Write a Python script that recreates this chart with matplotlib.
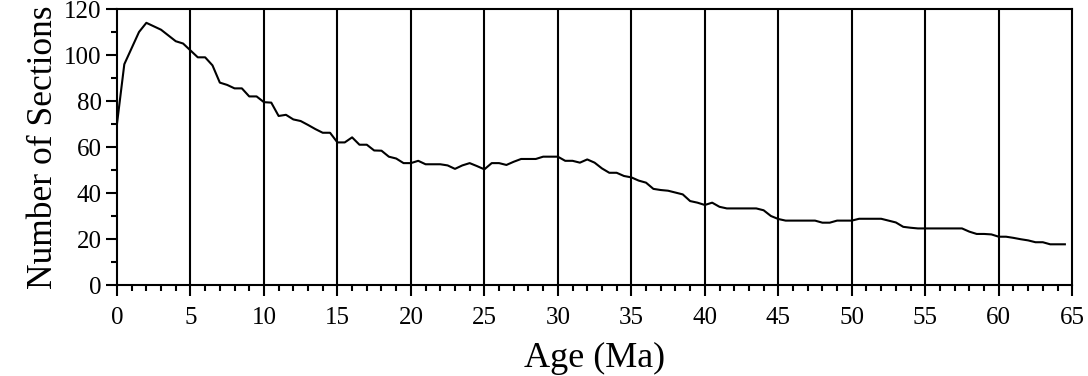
"""
Number of sections through time
"""
import matplotlib
matplotlib.use('Agg')
import matplotlib.pyplot as plt
from matplotlib.ticker import MultipleLocator

# ages (Ma) and number of sections
age = [0, 0.5, 1.0, 1.5, 2.0, 2.5, 3.0, 3.5, 4.0, 4.5,
       5.0, 5.5, 6.0, 6.5, 7.0, 7.5, 8.0, 8.5, 9.0, 9.5,
       10.0, 10.5, 11.0, 11.5, 12.0, 12.5, 13.0, 13.5, 14.0, 14.5,
       15.0, 15.5, 16.0, 16.5, 17.0, 17.5, 18.0, 18.5, 19.0, 19.5,
       20.0, 20.5, 21.0, 21.5, 22.0, 22.5, 23.0, 23.5, 24.0, 24.5,
       25.0, 25.5, 26.0, 26.5, 27.0, 27.5, 28.0, 28.5, 29.0, 29.5,
       30.0, 30.5, 31.0, 31.5, 32.0, 32.5, 33.0, 33.5, 34.0, 34.5,
       35.0, 35.5, 36.0, 36.5, 37.0, 37.5, 38.0, 38.5, 39.0, 39.5,
       40.0, 40.5, 41.0, 41.5, 42.0, 42.5, 43.0, 43.5, 44.0, 44.5,
       45.0, 45.5, 46.0, 46.5, 47.0, 47.5, 48.0, 48.5, 49.0, 49.5,
       50.0, 50.5, 51.0, 51.5, 52.0, 52.5, 53.0, 53.5, 54.0, 54.5,
       55.0, 55.5, 56.0, 56.5, 57.0, 57.5, 58.0, 58.5, 59.0, 59.5,
       60.0, 60.5, 61.0, 61.5, 62.0, 62.5, 63.0, 63.5, 64.0, 64.5]
sections = [70, 96, 103, 110, 114, 112.5, 111, 108.5, 106, 105,
            102, 99, 99, 95.5, 88, 87, 85.5, 85.5, 82, 82,
            79.5, 79.3, 73.5, 74, 72, 71.3, 69.6, 67.8, 66.2, 66.2,
            62, 62, 64.2, 61, 61, 58.5, 58.4, 55.8, 55, 53,
            53, 54, 52.5, 52.5, 52.5, 52, 50.5, 52, 53, 51.7,
            50.3, 53, 53, 52.2, 53.6, 54.8, 54.8, 54.8, 55.8, 55.8,
            55.8, 54, 54, 53.2, 54.6, 53.2, 50.7, 48.8, 48.8, 47.4,
            46.8, 45.4, 44.5, 41.8, 41.3, 41, 40.2, 39.4, 36.5, 35.8,
            34.8, 35.8, 34, 33.3, 33.3, 33.3, 33.3, 33.3, 32.5, 30,
            28.7, 28, 28, 28, 28, 28, 27.1, 27.1, 28, 28,
            28, 28.8, 28.8, 28.8, 28.8, 28, 27.2, 25.3, 24.9, 24.6,
            24.6, 24.6, 24.6, 24.6, 24.6, 24.6, 23.2, 22.2, 22.2, 22,
            21, 21, 20.5, 19.9, 19.4, 18.6, 18.6, 17.7, 17.7, 17.7]

grid_ages = list(range(5, 65, 5))

plt.rcParams['font.family'] = ['Liberation Serif', 'DejaVu Serif']

fig = plt.figure(figsize=(10.88, 3.76), dpi=100)
ax = fig.add_axes([0.1075, 0.242, 0.878, 0.734])

for g in grid_ages:
    ax.axvline(g, color='black', linewidth=1.5)
ax.plot(age, sections, color='black', linewidth=1.5)

ax.set_xlim(0, 65)
ax.set_ylim(0, 120)
ax.xaxis.set_major_locator(MultipleLocator(5))
ax.xaxis.set_minor_locator(MultipleLocator(1))
ax.yaxis.set_major_locator(MultipleLocator(20))
ax.yaxis.set_minor_locator(MultipleLocator(10))
ax.tick_params(which='major', direction='out', length=8, width=1.5, labelsize=18, color='black')
ax.tick_params(which='minor', direction='out', length=4, width=1.5, color='black')
ax.tick_params(axis='x', which='major', pad=8)
ax.tick_params(axis='y', which='major', pad=3)
for s in ax.spines.values():
    s.set_linewidth(1.5)

ax.set_xlabel('Age (Ma)', fontsize=26, labelpad=9)
ax.set_ylabel('Number of Sections', fontsize=25.5, labelpad=3)

fig.savefig('out.png', dpi=100)
